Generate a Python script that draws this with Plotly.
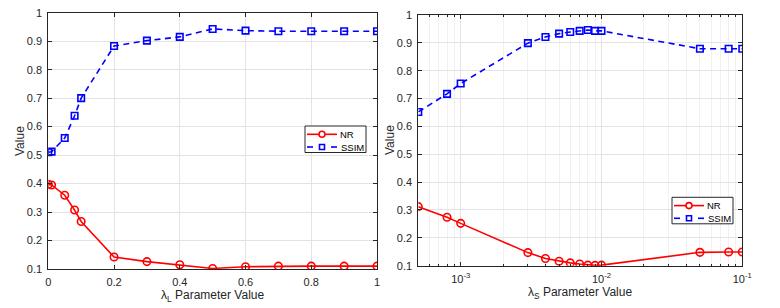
import plotly.graph_objects as go

# Left panel data (lambda_L)
lam_L = [0, 0.01, 0.05, 0.08, 0.1, 0.2, 0.3, 0.4, 0.5, 0.6, 0.7, 0.8, 0.9, 1.0]
nr_L = [0.397, 0.395, 0.359, 0.307, 0.267, 0.142, 0.126, 0.115, 0.102, 0.108, 0.110, 0.110, 0.110, 0.110]
ssim_L = [0.510, 0.512, 0.560, 0.638, 0.700, 0.883, 0.902, 0.915, 0.943, 0.937, 0.935, 0.935, 0.935, 0.935]

# Right panel data (lambda_S)
lam_S = [5e-4, 8e-4, 1e-3, 3e-3, 4e-3, 5e-3, 6e-3, 7e-3, 8e-3, 9e-3, 1e-2, 5e-2, 8e-2, 1e-1]
nr_S = [0.312, 0.274, 0.252, 0.147, 0.126, 0.116, 0.110, 0.106, 0.102, 0.101, 0.102, 0.148, 0.149, 0.149]
ssim_S = [0.652, 0.717, 0.754, 0.899, 0.921, 0.933, 0.939, 0.943, 0.946, 0.943, 0.943, 0.879, 0.879, 0.879]

series_names = ["NR", "SSIM"]
y_title = "Value"
xL_title = "λ<sub>L</sub> Parameter Value"
xS_title = "λ<sub>S</sub> Parameter Value"

y_ticks = [0.1, 0.2, 0.3, 0.4, 0.5, 0.6, 0.7, 0.8, 0.9, 1]
y_ticklabels = ["0.1", "0.2", "0.3", "0.4", "0.5", "0.6", "0.7", "0.8", "0.9", "1"]
xL_ticks = [0, 0.2, 0.4, 0.6, 0.8, 1]
xL_ticklabels = ["0", "0.2", "0.4", "0.6", "0.8", "1"]
xS_ticks = [1e-3, 1e-2, 1e-1]
xS_ticklabels = ["10<sup>-3</sup>", "10<sup>-2</sup>", "10<sup>-1</sup>"]
xS_minor = [6e-4, 7e-4, 8e-4, 9e-4] + [k * 1e-3 for k in range(2, 10)] + [k * 1e-2 for k in range(2, 10)]

W, H = 780, 308
RED = "#ff0000"
BLUE = "#0000ff"
AX = "#262626"
GRID = "#e3e3e3"
FONT = "Liberation Sans, Arial, sans-serif"

def px(x):
    return x / W

def py(y):
    return 1 - y / H

fig = go.Figure()

def add_pair(x, nr, ss, xa, ya):
    fig.add_trace(go.Scatter(x=x, y=nr, name=series_names[0], mode="lines+markers", xaxis=xa, yaxis=ya,
                             line=dict(color=RED, width=1.6),
                             marker=dict(symbol="circle-open", size=7.5, color=RED, line=dict(width=1.6)),
                             showlegend=False))
    fig.add_trace(go.Scatter(x=x, y=ss, name=series_names[1], mode="lines+markers", xaxis=xa, yaxis=ya,
                             line=dict(color=BLUE, width=1.6, dash="6px,4.5px"),
                             marker=dict(symbol="square-open", size=6.5, color=BLUE, line=dict(width=1.6)),
                             showlegend=False))

add_pair(lam_L, nr_L, ssim_L, "x", "y")
add_pair(lam_S, nr_S, ssim_S, "x2", "y2")

axis_common = dict(showline=True, linecolor=AX, linewidth=1, mirror="ticks", ticks="inside",
                   ticklen=4, tickcolor=AX, gridcolor=GRID, showgrid=True, zeroline=False,
                   automargin=False, ticklabelstandoff=3,
                   tickfont=dict(family=FONT, size=11, color=AX))

shapes = []
annotations = []

def add_legend(left, top):
    # box
    shapes.append(dict(type="rect", xref="paper", yref="paper",
                       x0=px(left), x1=px(left + 61), y0=py(top), y1=py(top + 26.5),
                       line=dict(color=AX, width=1), fillcolor="white", layer="above"))
    r1 = top + 8.3
    r2 = top + 21.0
    # NR entry: solid line + circle
    shapes.append(dict(type="line", xref="paper", yref="paper",
                       x0=px(left + 2), x1=px(left + 32), y0=py(r1), y1=py(r1),
                       line=dict(color=RED, width=1.6), layer="above"))
    shapes.append(dict(type="circle", xref="paper", yref="paper", xsizemode="pixel", ysizemode="pixel",
                       xanchor=px(left + 17), yanchor=py(r1), x0=-3, x1=3, y0=-3, y1=3,
                       line=dict(color=RED, width=1.6), fillcolor="white", layer="above"))
    # SSIM entry: dashes + square
    for a, b in [(left + 2, left + 8), (left + 26, left + 32)]:
        shapes.append(dict(type="line", xref="paper", yref="paper",
                           x0=px(a), x1=px(b), y0=py(r2), y1=py(r2),
                           line=dict(color=BLUE, width=1.6), layer="above"))
    shapes.append(dict(type="rect", xref="paper", yref="paper", xsizemode="pixel", ysizemode="pixel",
                       xanchor=px(left + 17), yanchor=py(r2), x0=-2.5, x1=2.5, y0=-2.5, y1=2.5,
                       line=dict(color=BLUE, width=1.6), fillcolor="white", layer="above"))
    annotations.append(dict(text=series_names[0], xref="paper", yref="paper", x=px(left + 34), y=py(r1),
                            xanchor="left", yanchor="middle", showarrow=False, borderpad=0,
                            font=dict(family=FONT, size=9.5, color="#000000")))
    annotations.append(dict(text=series_names[1], xref="paper", yref="paper", x=px(left + 35), y=py(r2),
                            xanchor="left", yanchor="middle", showarrow=False, borderpad=0,
                            font=dict(family=FONT, size=9.5, color="#000000")))

add_legend(305, 126)
add_legend(672, 197.3)

def add_title(text, x, y, angle=0):
    annotations.append(dict(text=text, xref="paper", yref="paper", x=px(x), y=py(y),
                            xanchor="center", yanchor="middle", showarrow=False, textangle=angle,
                            font=dict(family=FONT, size=12, color=AX)))

add_title(y_title, 20, 141, -90)
add_title(y_title, 390, 140, -90)
add_title(xL_title, 212.7, 295.5)
add_title(xS_title, 580.3, 293)

fig.update_layout(
    width=W, height=H,
    margin=dict(l=0, r=0, t=0, b=0),
    paper_bgcolor="white", plot_bgcolor="white",
    font=dict(family=FONT, color=AX),
    xaxis=dict(domain=[px(48.3), px(377)], range=[0, 1], tickvals=xL_ticks, ticktext=xL_ticklabels,
               anchor="y", **axis_common),
    yaxis=dict(domain=[py(269), py(12.7)], range=[0.1, 1], tickvals=y_ticks, ticktext=y_ticklabels,
               anchor="x", **axis_common),
    xaxis2=dict(domain=[px(418.3), px(742.3)], type="log", range=[-3.30103, -1], tickvals=xS_ticks,
                ticktext=xS_ticklabels,
                minor=dict(tickvals=xS_minor, ticks="inside", ticklen=2, tickcolor=AX, showgrid=True,
                           gridcolor="#f0f0f0"),
                anchor="y2", **axis_common),
    yaxis2=dict(domain=[py(265.7), py(15)], range=[0.1, 1], tickvals=y_ticks, ticktext=y_ticklabels,
                anchor="x2", **axis_common),
    shapes=shapes,
    annotations=annotations,
    showlegend=False,
)

fig.write_html("out.html", config={"displayModeBar": False},
               post_script="document.body.style.margin='0';document.body.style.overflow='hidden';")
